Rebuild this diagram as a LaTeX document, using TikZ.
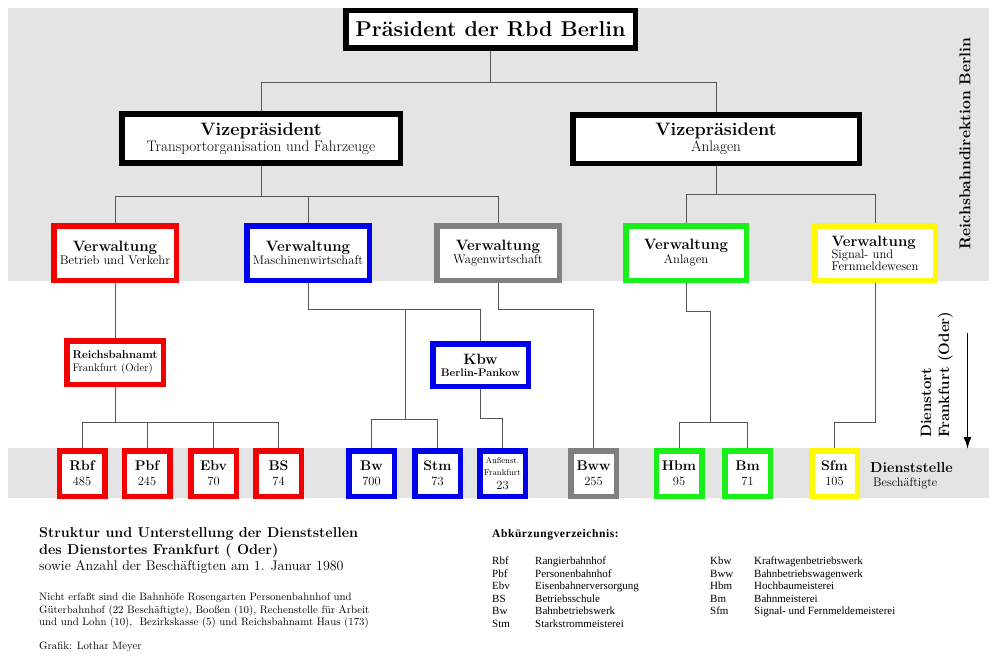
\documentclass[tikz,border=0pt]{standalone}
\usepackage{fontspec}
\usetikzlibrary{arrows.meta}
\newfontfamily\legendfont{Liberation Serif}
\newcommand\setfs[2]{\fontsize{#1}{#2}\selectfont}
\definecolor{bandgray}{RGB}{228,228,228}
\definecolor{edgegray}{RGB}{85,85,85}
\definecolor{rbred}{RGB}{245,0,0}
\definecolor{rbblue}{RGB}{0,0,235}
\definecolor{rbgray}{RGB}{128,128,128}
\definecolor{rbgreen}{RGB}{25,240,25}
\definecolor{rbyellow}{RGB}{255,250,0}
\begin{document}
\begin{tikzpicture}[x=1pt,y=-1pt]
\tikzstyle{band}=[fill=bandgray]
\tikzstyle{box}=[draw, fill=white, line width=5.5pt, inner sep=0pt, outer sep=2.75pt, align=center]
\tikzstyle{chief-box}=[box, draw=black]
\tikzstyle{admin-box}=[box, minimum width=122.5pt, minimum height=54.5pt]
\tikzstyle{unit-box}=[box, minimum width=45.5pt, minimum height=45.5pt]
\tikzstyle{tree-edge}=[edgegray, line width=1pt]

\useasboundingbox (0,0) rectangle (1000,669);
\fill[style=band] (8,8) rectangle (989,281);
\fill[style=band] (8,448) rectangle (989,498);

% leitung
\node[style=chief-box, minimum width=289.5pt, minimum height=37.5pt] (pres) at (490.5,29.5)
  {\bfseries\setfs{21.5}{24}Präsident der Rbd Berlin};
\node[style=chief-box, minimum width=278.5pt, minimum height=49pt] (vp1) at (261,138.5)
  {{\bfseries\setfs{18}{20}Vizepräsident}\\[1pt]{\setfs{15.2}{17}Transportorganisation und Fahrzeuge}};
\node[style=chief-box, minimum width=286.5pt, minimum height=48.5pt] (vp2) at (716,139)
  {{\bfseries\setfs{18}{20}Vizepräsident}\\[1pt]{\setfs{15.2}{17}Anlagen}};

% verwaltungen
\node[style=admin-box, draw=rbred] (vbv) at (115,253)
  {{\bfseries\setfs{15}{17}Verwaltung}\\[1pt]{\setfs{12.6}{14}Betrieb und Verkehr}};
\node[style=admin-box, draw=rbblue] (vmw) at (308,253)
  {{\bfseries\setfs{15}{17}Verwaltung}\\[1pt]{\setfs{12.6}{14}Maschinenwirtschaft}};
\node[style=admin-box, draw=rbgray] (vww) at (498,253)
  {{\bfseries\setfs{15}{17}Verwaltung}\\[1pt]{\setfs{12.6}{14}Wagenwirtschaft}};
\node[style=admin-box, draw=rbgreen, minimum width=120.5pt] (van) at (686,253)
  {{\bfseries\setfs{15}{17}Verwaltung}\\[1pt]{\setfs{12.6}{14}Anlagen}};
\node[style=admin-box, draw=rbyellow, minimum width=120.5pt, align=left] (vsf) at (875,253)
  {{\bfseries\setfs{15}{17}Verwaltung}\\{\setfs{12.6}{14}Signal- und}\\{\setfs{12.6}{14}Fernmeldewesen}};

% zwischenstellen
\node[style=box, draw=rbred, minimum width=96.5pt, minimum height=43.5pt, align=left] (rba) at (115,362.5)
  {{\bfseries\setfs{11.3}{13}Reichsbahnamt}\\[1pt]{\setfs{11}{12}Frankfurt (Oder)}};
\node[style=box, draw=rbblue, minimum width=95.5pt, minimum height=42.5pt] (kbw) at (480.5,365)
  {{\bfseries\setfs{15}{17}Kbw}\\{\bfseries\setfs{11}{12}Berlin-Pankow}};

% dienststellen
\node[style=unit-box, draw=rbred] (rbf) at (82,473.5) {{\bfseries\setfs{14}{15}Rbf}\\[3pt]{\setfs{12.5}{13}485}};
\node[style=unit-box, draw=rbred] (pbf) at (147,473.5) {{\bfseries\setfs{14}{15}Pbf}\\[3pt]{\setfs{12.5}{13}245}};
\node[style=unit-box, draw=rbred] (ebv) at (213.5,473.5) {{\bfseries\setfs{14}{15}Ebv}\\[3pt]{\setfs{12.5}{13}70}};
\node[style=unit-box, draw=rbred] (bs) at (278.5,473.5) {{\bfseries\setfs{14}{15}BS}\\[3pt]{\setfs{12.5}{13}74}};
\node[style=unit-box, draw=rbblue] (bw) at (371.5,473.5) {{\bfseries\setfs{14}{15}Bw}\\[3pt]{\setfs{12.5}{13}700}};
\node[style=unit-box, draw=rbblue] (stm) at (437.5,473.5) {{\bfseries\setfs{14}{15}Stm}\\[3pt]{\setfs{12.5}{13}73}};
\node[style=unit-box, draw=rbblue] (aus) at (502.5,473.5) {{\setfs{8.5}{10}Außenst.}\\{\setfs{8.5}{10}Frankfurt}\\[2pt]{\setfs{12.5}{13}23}};
\node[style=unit-box, draw=rbgray] (bww) at (593.5,473.5) {{\bfseries\setfs{14}{15}Bww}\\[3pt]{\setfs{12.5}{13}255}};
\node[style=unit-box, draw=rbgreen] (hbm) at (679,473.5) {{\bfseries\setfs{14}{15}Hbm}\\[3pt]{\setfs{12.5}{13}95}};
\node[style=unit-box, draw=rbgreen] (bm) at (747.5,473.5) {{\bfseries\setfs{14}{15}Bm}\\[3pt]{\setfs{12.5}{13}71}};
\node[style=unit-box, draw=rbyellow] (sfm) at (834.5,473.5) {{\bfseries\setfs{14}{15}Sfm}\\[3pt]{\setfs{12.5}{13}105}};

% verbindungen
\coordinate (mw-fork) at (405,309);
\coordinate (an-fork) at (710,311);
\draw[style=tree-edge] (pres.south) |- (vp1.north |- 0,82) -- (vp1.north);
\draw[style=tree-edge] (pres.south) |- (vp2.north |- 0,82) -- (vp2.north);
\draw[style=tree-edge] (vp1.south) |- (vbv.north |- 0,196) -- (vbv.north);
\draw[style=tree-edge] (vp1.south) |- (vmw.north |- 0,196) -- (vmw.north);
\draw[style=tree-edge] (vp1.south) |- (vww.north |- 0,196) -- (vww.north);
\draw[style=tree-edge] (vp2.south) |- (van.north |- 0,194) -- (van.north);
\draw[style=tree-edge] (vp2.south) |- (vsf.north |- 0,194) -- (vsf.north);

\draw[style=tree-edge] (vbv.south) -- (rba.north);
\draw[style=tree-edge] (rba.south) |- (rbf.north |- 0,422) -- (rbf.north);
\draw[style=tree-edge] (rba.south) |- (pbf.north |- 0,422) -- (pbf.north);
\draw[style=tree-edge] (rba.south) |- (ebv.north |- 0,422) -- (ebv.north);
\draw[style=tree-edge] (rba.south) |- (bs.north |- 0,422) -- (bs.north);

\draw[style=tree-edge] (vmw.south) |- (kbw.north |- 0,309) -- (kbw.north);
\draw[style=tree-edge] (vmw.south) |- (mw-fork) -- (mw-fork |- 0,419) -| (bw.north);
\draw[style=tree-edge] (mw-fork |- 0,419) -| (stm.north);
\draw[style=tree-edge] (kbw.south) |- (aus.north |- 0,418) -- (aus.north);
\draw[style=tree-edge] (vww.south) |- (bww.north |- 0,309) -- (bww.north);

\draw[style=tree-edge] (van.south) |- (an-fork) -- (an-fork |- 0,422) -| (hbm.north);
\draw[style=tree-edge] (an-fork |- 0,422) -| (bm.north);
\draw[style=tree-edge] (vsf.south) |- (sfm.north |- 0,422) -- (sfm.north);

% randbeschriftung
\node[rotate=90, font=\bfseries\setfs{15.7}{17}] (rbd-label) at (965,143.5) {Reichsbahndirektion Berlin};
\node[rotate=90, anchor=south west, inner sep=0pt, align=left, font=\bfseries\setfs{15}{18}] (ort-label) at (953,438)
  {Dienstort\\Frankfurt (Oder)};
\coordinate (arrow-top) at (967.5,333);
\coordinate (arrow-tip) at (967.5,449);
\draw[-{Latex[length=12pt,width=8pt]}, line width=1.6pt] (arrow-top) -- (arrow-tip);
\node[anchor=west, align=left, inner sep=0pt] (unit-label) at (870,476)
  {{\bfseries\setfs{14.4}{16}Dienststelle}\\[2pt]{\setfs{12.3}{13}\hspace{3pt}Beschäftigte}};

% unterschrift
\node[anchor=north west, align=left, inner sep=0pt] (caption) at (39,527)
  {{\bfseries\setfs{14.3}{17.5}Struktur und Unterstellung der Dienststellen}\\[3pt]
   {\bfseries\setfs{14.3}{17.5}des Dienstortes Frankfurt ( Oder)}\\[1pt]
   {\setfs{14}{16}sowie Anzahl der Beschäftigten am 1. Januar 1980}};
\node[anchor=north west, align=left, inner sep=0pt, font=\setfs{10.8}{12.5}] (note) at (39,593)
  {Nicht erfaßt sind die Bahnhöfe Rosengarten Personenbahnhof und\\
   Güterbahnhof (22 Beschäftigte), Booßen (10), Rechenstelle für Arbeit\\
   und und Lohn (10),\ \ Bezirkskasse (5) und Reichsbahnamt Haus (173)};
\node[anchor=north west, align=left, inner sep=0pt, font=\setfs{10.8}{12.5}] (credit) at (39,642)
  {Grafik: Lothar Meyer};

% abkuerzungen
\node[anchor=north west, inner sep=0pt, font=\legendfont\bfseries\setfs{11.5}{13}] (abbr-title) at (492,529)
  {\addfontfeature{LetterSpace=5}Abkürzungverzeichnis:};
\node[anchor=north west, align=left, inner sep=0pt, font=\legendfont\setfs{11}{12.5}] (abbr-a) at (492,557)
  {Rbf\\Pbf\\Ebv\\BS\\Bw\\Stm};
\node[anchor=north west, align=left, inner sep=0pt, font=\legendfont\setfs{11}{12.5}] (text-a) at (535,557)
  {Rangierbahnhof\\Personenbahnhof\\Eisenbahnerversorgung\\Betriebsschule\\Bahnbetriebswerk\\Starkstrommeisterei};
\node[anchor=north west, align=left, inner sep=0pt, font=\legendfont\setfs{11}{12.5}] (abbr-b) at (710,557)
  {Kbw\\Bww\\Hbm\\Bm\\Sfm};
\node[anchor=north west, align=left, inner sep=0pt, font=\legendfont\setfs{11}{12.5}] (text-b) at (754,557)
  {Kraftwagenbetriebswerk\\Bahnbetriebswagenwerk\\Hochbaumeisterei\\Bahnmeisterei\\Signal- und Fernmeldemeisterei};

\end{tikzpicture}
\end{document}
